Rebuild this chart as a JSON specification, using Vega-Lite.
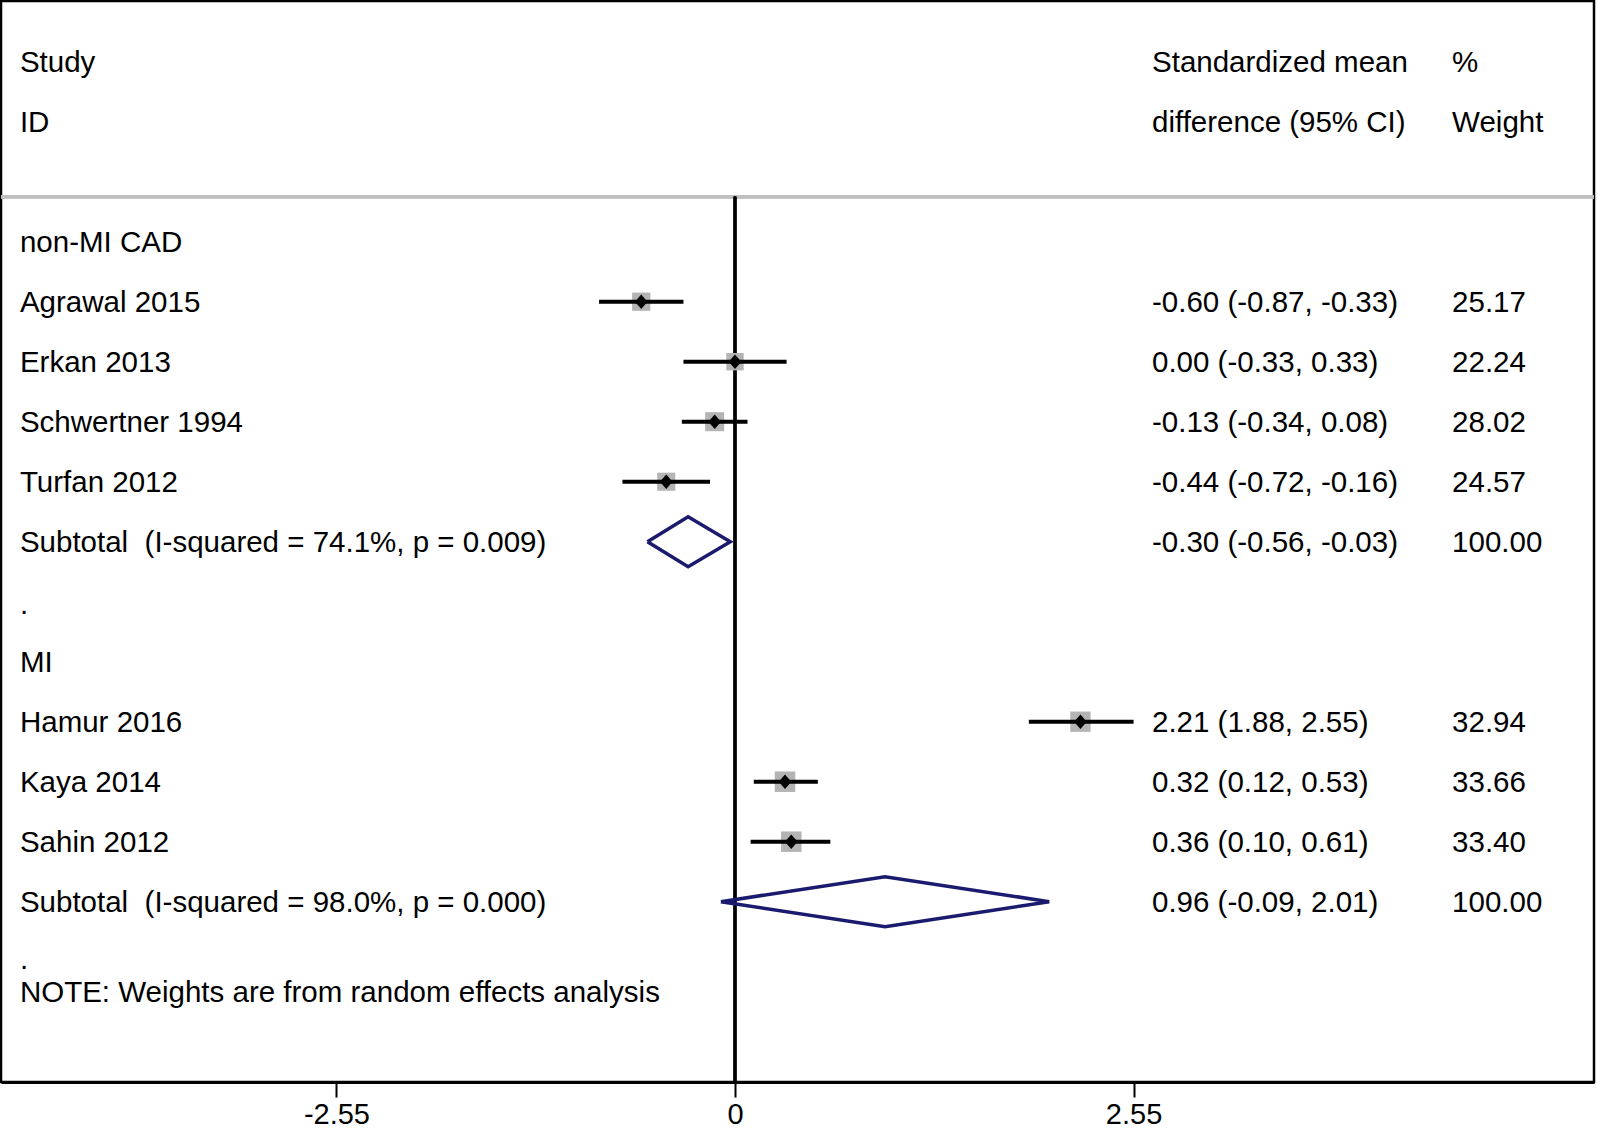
{
  "$schema": "https://vega.github.io/schema/vega-lite/v6.json",
  "width": 1593,
  "height": 1081,
  "autosize": {"type": "none"},
  "padding": {"left": 1, "top": 1, "right": 3, "bottom": 48},
  "background": "white",
  "config": {
    "view": {"stroke": "black", "strokeWidth": 2.5},
    "text": {"font": "Liberation Sans", "fontSize": 29.5, "color": "black"},
    "axis": {"grid": false, "title": null}
  },
  "datasets": {
    "rows": [
      {"k": 0, "study": "Study", "ci": "Standardized mean", "wt": "%"},
      {"k": 1, "study": "ID", "ci": "difference (95% CI)", "wt": "Weight"},
      {"k": 3, "study": "non-MI CAD"},
      {"k": 4, "study": "Agrawal 2015", "ci": "-0.60 (-0.87, -0.33)", "wt": "25.17"},
      {"k": 5, "study": "Erkan 2013", "ci": "0.00 (-0.33, 0.33)", "wt": "22.24"},
      {"k": 6, "study": "Schwertner 1994", "ci": "-0.13 (-0.34, 0.08)", "wt": "28.02"},
      {"k": 7, "study": "Turfan 2012", "ci": "-0.44 (-0.72, -0.16)", "wt": "24.57"},
      {"k": 8, "study": "Subtotal\u00a0 (I-squared = 74.1%, p = 0.009)", "ci": "-0.30 (-0.56, -0.03)", "wt": "100.00"},
      {"k": 9.03, "study": "."},
      {"k": 10, "study": "MI"},
      {"k": 11, "study": "Hamur 2016", "ci": "2.21 (1.88, 2.55)", "wt": "32.94"},
      {"k": 12, "study": "Kaya 2014", "ci": "0.32 (0.12, 0.53)", "wt": "33.66"},
      {"k": 13, "study": "Sahin 2012", "ci": "0.36 (0.10, 0.61)", "wt": "33.40"},
      {"k": 14, "study": "Subtotal\u00a0 (I-squared = 98.0%, p = 0.000)", "ci": "0.96 (-0.09, 2.01)", "wt": "100.00"},
      {"k": 14.94, "study": "."},
      {"k": 15.5, "study": "NOTE: Weights are from random effects analysis"}
    ],
    "studies": [
      {"k": 4, "smd": -0.60, "lo": -0.87, "hi": -0.33, "w": 25.17},
      {"k": 5, "smd": 0.00, "lo": -0.33, "hi": 0.33, "w": 22.24},
      {"k": 6, "smd": -0.13, "lo": -0.34, "hi": 0.08, "w": 28.02},
      {"k": 7, "smd": -0.44, "lo": -0.72, "hi": -0.16, "w": 24.57},
      {"k": 11, "smd": 2.21, "lo": 1.88, "hi": 2.55, "w": 32.94},
      {"k": 12, "smd": 0.32, "lo": 0.12, "hi": 0.53, "w": 33.66},
      {"k": 13, "smd": 0.36, "lo": 0.10, "hi": 0.61, "w": 33.40}
    ],
    "diamonds": [
      {"g": 1, "i": 0, "smd": -0.56, "k": 8},
      {"g": 1, "i": 1, "smd": -0.30, "k": 7.583},
      {"g": 1, "i": 2, "smd": -0.03, "k": 8},
      {"g": 1, "i": 3, "smd": -0.30, "k": 8.417},
      {"g": 1, "i": 4, "smd": -0.56, "k": 8},
      {"g": 2, "i": 0, "smd": -0.09, "k": 14},
      {"g": 2, "i": 1, "smd": 0.96, "k": 13.583},
      {"g": 2, "i": 2, "smd": 2.01, "k": 14},
      {"g": 2, "i": 3, "smd": 0.96, "k": 14.417},
      {"g": 2, "i": 4, "smd": -0.09, "k": 14}
    ]
  },
  "layer": [
    {
      "data": {"name": "studies"},
      "mark": {"type": "rule", "color": "#bfbfbf", "strokeWidth": 3},
      "encoding": {
        "x": {"datum": -4.6961, "type": "quantitative", "scale": {"domain": [-4.6961, 5.4958], "nice": false, "zero": false}, "title": null},
        "x2": {"datum": 5.4958},
        "y": {"datum": 2.25, "type": "quantitative", "scale": {"domain": [-1.0117, 17.005], "reverse": true, "nice": false, "zero": false}, "axis": null}
      }
    },
    {
      "data": {"name": "studies"},
      "mark": {"type": "rule", "color": "black", "strokeWidth": 2.5},
      "encoding": {
        "x": {"datum": 0, "type": "quantitative", "scale": {"domain": [-4.6961, 5.4958], "nice": false, "zero": false}, "title": null},
        "y": {"datum": 2.25, "type": "quantitative", "scale": {"domain": [-1.0117, 17.005], "reverse": true, "nice": false, "zero": false}, "axis": null},
        "y2": {"datum": 17.005}
      }
    },
    {
      "data": {"name": "studies"},
      "mark": {"type": "point", "shape": "square", "filled": true, "color": "#b4b4b4", "opacity": 1},
      "encoding": {
        "x": {"field": "smd", "type": "quantitative", "scale": {"domain": [-4.6961, 5.4958], "nice": false, "zero": false}, "title": null, "axis": {"values": [-2.55, 0, 2.55], "labelExpr": "datum.value == 0 ? '0' : replace(format(datum.value, '.2f'), '\u2212', '-')", "title": null, "grid": false, "domain": true, "domainColor": "black", "domainWidth": 3, "ticks": true, "tickColor": "black", "tickWidth": 2, "tickSize": 15, "labelFont": "Liberation Sans", "labelFontSize": 29, "labelColor": "black", "labelPadding": 3, "labelFlush": false, "labelOverlap": false}},
        "y": {"field": "k", "type": "quantitative", "scale": {"domain": [-1.0117, 17.005], "reverse": true, "nice": false, "zero": false}, "axis": null},
        "size": {"field": "w", "type": "quantitative", "scale": {"domain": [22, 34], "range": [300, 425], "zero": false}, "legend": null}
      }
    },
    {
      "data": {"name": "studies"},
      "mark": {"type": "rule", "color": "black", "strokeWidth": 4},
      "encoding": {
        "x": {"field": "lo", "type": "quantitative", "scale": {"domain": [-4.6961, 5.4958], "nice": false, "zero": false}, "title": null},
        "x2": {"field": "hi"},
        "y": {"field": "k", "type": "quantitative", "scale": {"domain": [-1.0117, 17.005], "reverse": true, "nice": false, "zero": false}, "axis": null}
      }
    },
    {
      "data": {"name": "studies"},
      "mark": {"type": "point", "shape": "M0,-1.15L1,0L0,1.15L-1,0Z", "filled": true, "color": "black", "opacity": 1, "size": 160},
      "encoding": {
        "x": {"field": "smd", "type": "quantitative", "scale": {"domain": [-4.6961, 5.4958], "nice": false, "zero": false}, "title": null},
        "y": {"field": "k", "type": "quantitative", "scale": {"domain": [-1.0117, 17.005], "reverse": true, "nice": false, "zero": false}, "axis": null}
      }
    },
    {
      "data": {"name": "diamonds"},
      "mark": {"type": "line", "color": "#1a1a6e", "strokeWidth": 3.5, "strokeJoin": "miter"},
      "encoding": {
        "x": {"field": "smd", "type": "quantitative", "scale": {"domain": [-4.6961, 5.4958], "nice": false, "zero": false}, "title": null},
        "y": {"field": "k", "type": "quantitative", "scale": {"domain": [-1.0117, 17.005], "reverse": true, "nice": false, "zero": false}, "axis": null},
        "detail": {"field": "g", "type": "nominal"},
        "order": {"field": "i", "type": "quantitative"}
      }
    },
    {
      "data": {"name": "rows"},
      "mark": {"type": "text", "align": "left", "baseline": "alphabetic", "dy": 10.5},
      "encoding": {
        "x": {"datum": -4.575, "type": "quantitative", "scale": {"domain": [-4.6961, 5.4958], "nice": false, "zero": false}, "title": null},
        "y": {"field": "k", "type": "quantitative", "scale": {"domain": [-1.0117, 17.005], "reverse": true, "nice": false, "zero": false}, "axis": null},
        "text": {"field": "study"}
      }
    },
    {
      "data": {"name": "rows"},
      "transform": [{"filter": "datum.ci != null"}],
      "mark": {"type": "text", "align": "left", "baseline": "alphabetic", "dy": 10.5},
      "encoding": {
        "x": {"datum": 2.668, "type": "quantitative", "scale": {"domain": [-4.6961, 5.4958], "nice": false, "zero": false}, "title": null},
        "y": {"field": "k", "type": "quantitative", "scale": {"domain": [-1.0117, 17.005], "reverse": true, "nice": false, "zero": false}, "axis": null},
        "text": {"field": "ci"}
      }
    },
    {
      "data": {"name": "rows"},
      "transform": [{"filter": "datum.wt != null"}],
      "mark": {"type": "text", "align": "left", "baseline": "alphabetic", "dy": 10.5},
      "encoding": {
        "x": {"datum": 4.588, "type": "quantitative", "scale": {"domain": [-4.6961, 5.4958], "nice": false, "zero": false}, "title": null},
        "y": {"field": "k", "type": "quantitative", "scale": {"domain": [-1.0117, 17.005], "reverse": true, "nice": false, "zero": false}, "axis": null},
        "text": {"field": "wt"}
      }
    }
  ]
}
